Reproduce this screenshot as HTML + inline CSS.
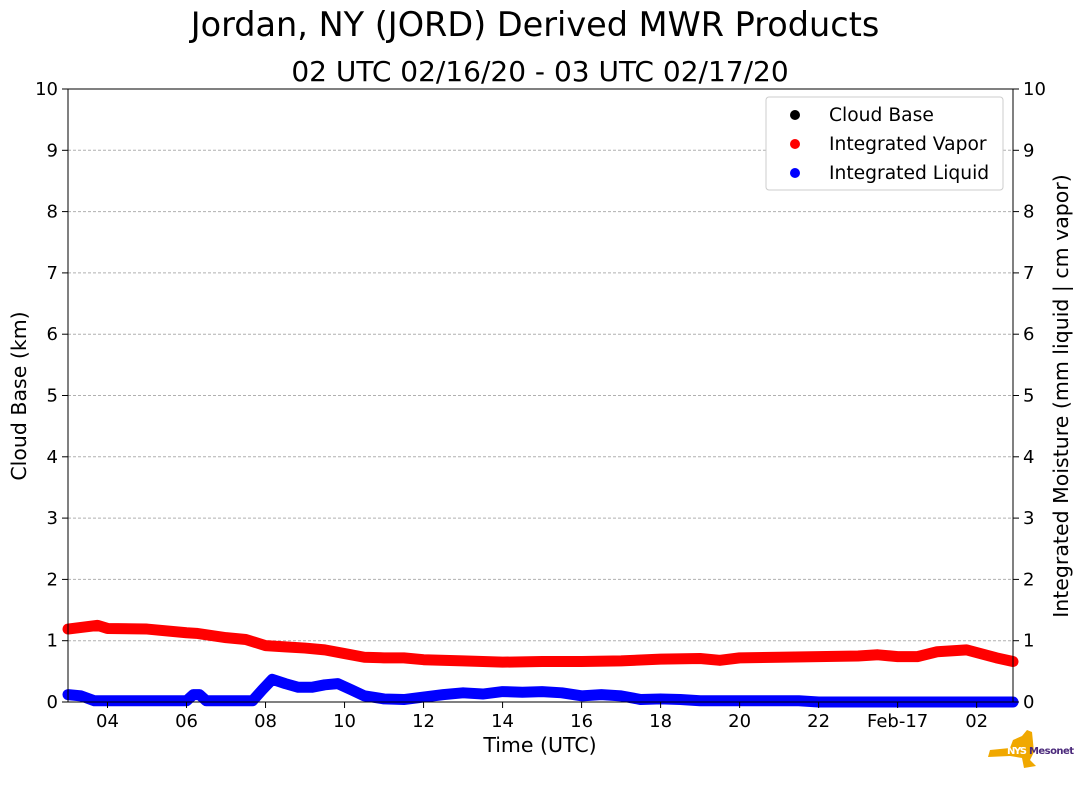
<!DOCTYPE html>
<html><head><meta charset="utf-8"><style>
body{margin:0;background:#fff;font-family:"Liberation Sans","DejaVu Sans",sans-serif}
svg text{font-family:"DejaVu Sans","Liberation Sans",sans-serif}
</style></head><body>
<svg id="chart" width="1089" height="804" xmlns="http://www.w3.org/2000/svg">
<text x="535" y="36" font-size="33.5" text-anchor="middle">Jordan, NY (JORD) Derived MWR Products</text>
<text x="540" y="81" font-size="28" text-anchor="middle">02 UTC 02/16/20 - 03 UTC 02/17/20</text>
<g id="grid"></g><g id="series"></g><g id="axes"></g>
<text x="540" y="752" font-size="20.5" text-anchor="middle">Time (UTC)</text>
<text transform="translate(26,396) rotate(-90)" font-size="20.5" text-anchor="middle">Cloud Base (km)</text>
<text transform="translate(1068,396) rotate(-90)" font-size="20.5" text-anchor="middle">Integrated Moisture (mm liquid | cm vapor)</text>
<g>
<rect x="766" y="97" width="237" height="93" rx="3" fill="#fff" stroke="#ccc"/>
<circle cx="795" cy="115" r="5" fill="#000"/><text x="829" y="121" font-size="18.7">Cloud Base</text>
<circle cx="795" cy="144" r="5" fill="#f00"/><text x="829" y="150" font-size="18.7">Integrated Vapor</text>
<circle cx="795" cy="173" r="5" fill="#00f"/><text x="829" y="179" font-size="18.7">Integrated Liquid</text>
</g>
<g>
<path d="M990 750 L1010 748 L1013 740 L1022 736 L1027 730 L1032 732 L1034 752 L1030 760 L1036 766 L1024 768 L1022 758 L1010 756 L988 757 Z" fill="#f0a800"/>
<text x="1007" y="754" font-size="10" font-weight="bold" fill="#fff" textLength="20">NYS</text>
<text x="1029" y="754" font-size="10" font-weight="bold" fill="#4b2a7b" textLength="45">Mesonet</text>
</g>
</svg>
<script>
const vapT=[0,0.75,1,2,3,3.25,4,4.5,5,5.5,6,6.5,7,7.5,8,8.5,9,10,11,12,13,14,15,16,16.5,17,18,19,20,20.5,21,21.5,22,22.75,23.5,23.92];
const vapV=[1.19,1.25,1.2,1.19,1.13,1.12,1.05,1.02,0.92,0.9,0.88,0.85,0.79,0.73,0.72,0.72,0.69,0.67,0.65,0.66,0.66,0.67,0.7,0.71,0.68,0.72,0.73,0.74,0.75,0.77,0.74,0.74,0.82,0.85,0.72,0.66];
const liqT=[0,0.33,0.67,1,2,3,3.17,3.33,3.5,4,4.67,4.92,5.17,5.5,5.83,6.17,6.5,6.83,7.17,7.5,8,8.5,9,9.5,10,10.5,11,11.5,12,12.5,13,13.5,14,14.5,15,15.5,16,18,18.5,19,20,21,22,23,23.92];
const liqV=[0.12,0.1,0.02,0.02,0.02,0.02,0.12,0.12,0.02,0.02,0.02,0.2,0.37,0.3,0.24,0.24,0.28,0.3,0.2,0.1,0.05,0.04,0.08,0.12,0.15,0.13,0.17,0.16,0.17,0.15,0.1,0.12,0.1,0.04,0.05,0.04,0.02,0.02,0.02,0.0,0.0,0.0,0.0,0.0,0.0];
const yTicks=[0,1,2,3,4,5,6,7,8,9,10];
const xTickLabels=["04","06","08","10","12","14","16","18","20","22","Feb-17","02"];
const xTickHours=[1,3,5,7,9,11,13,15,17,19,21,23];
const L=68,R=1013,T=89,B=702,NS="http://www.w3.org/2000/svg";
const sx=h=>L+h*(R-L)/23.92, sy=v=>B-v*(B-T)/10;
function mk(tag,at,par){const e=document.createElementNS(NS,tag);for(const k in at)e.setAttribute(k,at[k]);document.getElementById(par).appendChild(e);return e;}
yTicks.forEach(v=>{
 if(v>0&&v<10){const g=mk('line',{x1:L,x2:R,y1:sy(v),y2:sy(v),stroke:'#b0b0b0','stroke-dasharray':'3,2'},'grid');
 
 }
 [[L,-6,'end',L-10],[R,6,'start',R+10]].forEach(([x,d,a,tx])=>{
  mk('line',{x1:x,x2:x+d,y1:sy(v),y2:sy(v),stroke:'#000'},'axes');
  const t=mk('text',{x:tx,y:sy(v)+6,'font-size':18,'text-anchor':a},'axes');t.textContent=v;
  
  
 });
});
xTickHours.forEach((h,i)=>{
 mk('line',{x1:sx(h),x2:sx(h),y1:B,y2:B+6,stroke:'#000'},'axes');
 const t=mk('text',{x:sx(h),y:B+25,'font-size':18,'text-anchor':'middle'},'axes');t.textContent=xTickLabels[i];
 
 
});
const fr=mk('rect',{x:L,y:T,width:R-L,height:B-T,fill:'none',stroke:'#000'},'axes');


function series(ts,vs,col,name){
 const pts=ts.map((t,i)=>sx(t)+','+sy(vs[i])).join(' ');
 const p=mk('polyline',{points:pts,fill:'none',stroke:col,'stroke-width':11,'stroke-linecap':'round','stroke-linejoin':'round'},'series');
 
 
}
series(liqT,liqV,'#00f','integrated-liquid-series');
series(vapT,vapV,'#f00','integrated-vapor-series');
</script>
</body></html>
